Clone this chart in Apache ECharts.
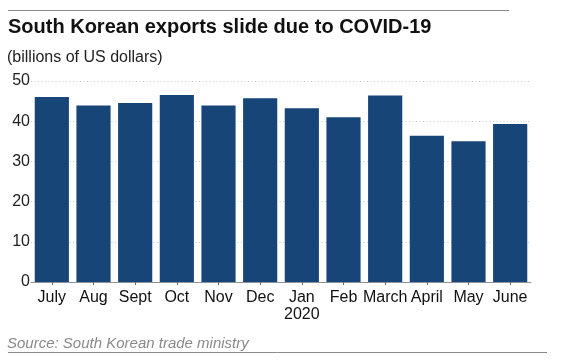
<!DOCTYPE html>
<html>
<head>
<meta charset="utf-8">
<script src="https://cdn.jsdelivr.net/npm/echarts@6/dist/echarts.min.js"></script>
<style>
html,body{margin:0;padding:0;background:#fff;}
#chart{width:561px;height:362px;}
</style>
</head>
<body>
<div id="chart"></div>
<script>
const categories = ['July','Aug','Sept','Oct','Nov','Dec','Jan\n2020','Feb','March','April','May','June'];
const exportsValues = [46.0, 43.9, 44.5, 46.5, 43.9, 45.7, 43.2, 41.0, 46.4, 36.4, 35.0, 39.3];
const yTicks = [0, 10, 20, 30, 40, 50];

const font = '"Liberation Sans", Arial, sans-serif';
const chart = echarts.init(document.getElementById('chart'));
chart.setOption({
  animation: false,
  backgroundColor: '#fff',
  title: [
    {text: 'South Korean exports slide due to COVID-19', left: 8, top: 17, padding: 0,
     textStyle: {fontFamily: font, fontSize: 20, fontWeight: 'bold', color: '#111'}},
    {text: '(billions of US dollars)', left: 7, top: 50, padding: 0,
     textStyle: {fontFamily: font, fontSize: 16, fontWeight: 'normal', color: '#222'}}
  ],
  grid: {left: 31, right: 30, top: 81, bottom: 80},
  xAxis: {
    type: 'category',
    data: categories,
    axisLine: {lineStyle: {color: '#8c929c', width: 1}},
    axisTick: {show: true, alignWithLabel: true, length: 3, lineStyle: {color: '#666'}},
    axisLabel: {fontFamily: font, fontSize: 16, color: '#111', margin: 7, lineHeight: 17, interval: 0}
  },
  yAxis: {
    type: 'value',
    min: yTicks[0], max: yTicks[yTicks.length - 1], interval: 10,
    axisLine: {show: false},
    axisTick: {show: false},
    axisLabel: {fontFamily: font, fontSize: 16, color: '#222', margin: 1},
    splitLine: {lineStyle: {color: '#c8c8c8', type: [1, 2.5], width: 1}}
  },
  series: [{
    type: 'bar',
    data: exportsValues,
    barCategoryGap: '18%',
    itemStyle: {color: '#184577'}
  }],
  graphic: [
    {type: 'line', shape: {x1: 8, y1: 10.5, x2: 509, y2: 10.5}, style: {stroke: '#8a8a8a', lineWidth: 1}},
    {type: 'line', shape: {x1: 8, y1: 352.5, x2: 547, y2: 352.5}, style: {stroke: '#8a8a8a', lineWidth: 1}},
    {type: 'text', left: 7, top: 336,
     style: {text: 'Source: South Korean trade ministry', font: 'italic 15px "Liberation Sans", Arial, sans-serif', fill: '#8a8a8a'}}
  ]
});
</script>
</body>
</html>
